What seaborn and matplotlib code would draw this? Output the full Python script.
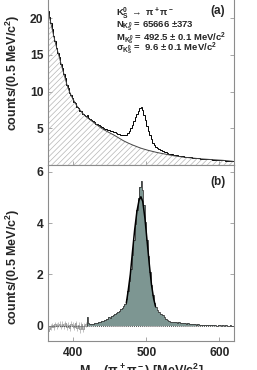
import numpy as np
import pandas as pd
import matplotlib
matplotlib.use("Agg")
import matplotlib.pyplot as plt
import seaborn as sns

sns.set_theme(style="white")
plt.rcParams['font.family'] = ['Liberation Sans', 'DejaVu Sans']
plt.rcParams['font.weight'] = 'bold'
plt.rcParams['mathtext.fontset'] = 'custom'
plt.rcParams['mathtext.rm'] = 'Liberation Sans:bold'
plt.rcParams['mathtext.it'] = 'Liberation Sans:bold'
plt.rcParams['mathtext.bf'] = 'Liberation Sans:bold'
plt.rcParams['hatch.linewidth'] = 0.5

# --- datos, bins de 2 MeV entre 364 y 620 ---
bin_edges = np.arange(364, 622, 2)
bin_centers = np.arange(365, 621, 2)

# fondo ajustado (panel a)
background = [21.2, 20.3, 19.4, 18.5, 17.6, 16.8, 16.0, 15.3, 14.6, 13.8,
              13.1, 12.4, 11.7, 11.0, 10.4, 9.9, 9.45, 9.05, 8.7, 8.35,
              8.0, 7.75, 7.5, 7.25, 7.0, 6.8, 6.6, 6.45, 6.3, 6.15,
              6.0, 5.85, 5.7, 5.55, 5.4, 5.25, 5.1, 4.97, 4.85, 4.73,
              4.62, 4.51, 4.4, 4.3, 4.2, 4.1, 3.98, 3.86, 3.74, 3.62,
              3.5, 3.38, 3.27, 3.17, 3.07, 2.98, 2.89, 2.8, 2.72, 2.64,
              2.56, 2.48, 2.4, 2.33, 2.26, 2.2, 2.14, 2.08, 2.02, 1.97,
              1.92, 1.87, 1.82, 1.77, 1.72, 1.68, 1.64, 1.6, 1.56, 1.52,
              1.48, 1.44, 1.4, 1.36, 1.32, 1.28, 1.25, 1.22, 1.19, 1.16,
              1.13, 1.1, 1.07, 1.05, 1.03, 1.01, 0.99, 0.97, 0.95, 0.93,
              0.91, 0.89, 0.87, 0.85, 0.84, 0.82, 0.81, 0.79, 0.78, 0.76,
              0.75, 0.74, 0.72, 0.71, 0.7, 0.68, 0.67, 0.66, 0.65, 0.63,
              0.62, 0.6, 0.58, 0.56, 0.54, 0.52, 0.5, 0.48]

# cuentas menos fondo (panel b): zona ruidosa sin relleno + zona rellena
signal_noise = [-0.2, -0.12, -0.05, 0.02, -0.04, 0.05, -0.02, 0.03, 0.08, -0.03,
                0.06, 0.0, 0.1, -0.05, 0.04, -0.08, 0.07, 0.02, -0.06, 0.09,
                -0.1, 0.03, -0.15, 0.05, -0.12, 0.02, 0.05]
signal_err = [0.12, 0.1, 0.11, 0.09, 0.12, 0.1, 0.11, 0.1, 0.12, 0.1,
              0.11, 0.12, 0.1, 0.11, 0.09, 0.12, 0.1, 0.11, 0.12, 0.1,
              0.11, 0.1, 0.12, 0.1, 0.11, 0.09, 0.1]
signal_peak = [0.33, 0.12, 0.05, 0.08, 0.07, 0.1, 0.09, 0.12, 0.14, 0.15,
               0.18, 0.17, 0.22, 0.25, 0.27, 0.32, 0.3, 0.36, 0.42, 0.45,
               0.5, 0.52, 0.58, 0.63, 0.68, 0.75,
               0.85, 1.05, 1.35, 1.75, 2.2, 2.75, 3.35, 3.95, 4.5, 5.0,
               5.4, 5.65, 5.3, 4.7, 4.05, 3.35, 2.7, 2.1, 1.6, 1.2,
               0.9, 0.72, 0.6, 0.52, 0.47,
               0.44, 0.4, 0.33, 0.27, 0.22, 0.18, 0.16, 0.15, 0.14, 0.14,
               0.13, 0.12, 0.13, 0.11, 0.12, 0.1, 0.1, 0.08, 0.09, 0.07,
               0.07, 0.06, 0.05, 0.06, 0.04,
               0.05, 0.03, 0.04, 0.03, 0.02, 0.03, 0.02, 0.02, 0.01, 0.02,
               0.01, 0.02, 0.01, 0.0, 0.01, 0.01, 0.0, 0.01, 0.0, 0.01,
               0.0, 0.0, 0.01, 0.0, 0.0]

# ajuste de la senal (panel b)
fit_x = [472.5, 475, 478, 481, 484, 487, 490, 492.5, 495, 498, 501, 504, 507, 510, 512.5]
fit_y = [0.88, 1.35, 2.0, 2.9, 3.75, 4.45, 4.9, 5.03, 4.85, 4.2, 3.3, 2.4, 1.6, 1.05, 0.75]

n_noise = len(signal_noise)
df = pd.DataFrame({'mass': bin_centers, 'bkg': background,
                   'sig': signal_noise + signal_peak})
df['counts'] = df['bkg'] + df['sig']

# --- figura ---
fig = plt.figure(figsize=(2.57, 3.70), dpi=100)
W, H = 257, 370
left, right = 47.5 / W, 234.3 / W
ax_a = fig.add_axes([left, 1 - 164.5 / H, right - left, 164.5 / H])
ax_b = fig.add_axes([left, 1 - 341 / H, right - left, (341 - 164.5) / H])

# Panel (a)
ax_a.fill_between(df['mass'], 0, df['bkg'], facecolor='none', edgecolor='#b5b5b5',
                  hatch='//////', linewidth=0)
sns.lineplot(x=df['mass'], y=df['bkg'], color='#444444', lw=0.7, ax=ax_a)
ax_a.stairs(df['counts'], bin_edges, color='black', lw=0.7)
ax_a.set_xlim(364.5, 620.5)
ax_a.set_ylim(0.05, 22.5)
ax_a.set_yticks([5, 10, 15, 20])
ax_a.set_xticks([400, 500, 600])
ax_a.set_xticklabels([])
ax_a.set_xlabel("")
ax_a.set_ylabel(r"counts/(0.5 MeV/c$^2$)", fontsize=9, fontweight='bold')
ax_a.yaxis.set_label_coords(-0.137, 0.556)

txt = dict(transform=ax_a.transAxes, fontsize=6.8, va='center', ha='left')
ax_a.text(0.367, 0.921, r"K$^0_S$ $\rightarrow$ $\pi^+\pi^-$", **txt)
ax_a.text(0.367, 0.838, r"N$_{K^0_S}$ = 65666 ±373", **txt)
ax_a.text(0.367, 0.767, r"M$_{K^0_S}$ = 492.5 ± 0.1 MeV/c$^2$", **txt)
ax_a.text(0.367, 0.702, r"$\sigma_{K^0_S}$ =  9.6 ± 0.1 MeV/c$^2$", **txt)
ax_a.text(0.91, 0.933, "(a)", transform=ax_a.transAxes, fontsize=8.5,
          va='center', ha='center')

# Panel (b)
noise = df.iloc[:n_noise]
peak = df.iloc[n_noise:]
ax_b.stairs(noise['sig'], bin_edges[:n_noise + 1], color='#8a8a8a', lw=0.6)
ax_b.errorbar(noise['mass'], noise['sig'], yerr=signal_err,
              fmt='none', ecolor='#a8a8a8', lw=0.5)
ax_b.stairs(peak['sig'], bin_edges[n_noise:], fill=True, color='#7d9692')
ax_b.stairs(peak['sig'], bin_edges[n_noise:], color='#3a3a3a', lw=0.6)
ax_b.axhline(0, color='#555555', lw=0.7, ls=(0, (1, 1)))
sns.lineplot(x=fit_x, y=fit_y, color='black', lw=1.1, ax=ax_b)
ax_b.set_xlim(364.5, 620.5)
ax_b.set_ylim(-0.6, 6.29)
ax_b.set_yticks([0, 2, 4, 6])
ax_b.set_xticks([400, 500, 600])
ax_b.set_ylabel(r"counts/(0.5 MeV/c$^2$)", fontsize=9, fontweight='bold')
ax_b.yaxis.set_label_coords(-0.137, 0.42)
ax_b.set_xlabel(r"M$_{\pi\pi}$($\pi^+\pi^-$) [MeV/c$^2$]", fontsize=9, fontweight='bold',
                labelpad=2)
ax_b.text(0.913, 0.903, "(b)", transform=ax_b.transAxes, fontsize=8.5,
          va='center', ha='center')

for ax in (ax_a, ax_b):
    ax.tick_params(axis='both', which='both', direction='in', length=3, width=0.6,
                   color='#999999', labelsize=8.7, pad=3, left=True, right=True, bottom=True)
    ax.tick_params(axis='x', pad=4)
    for lab in ax.get_xticklabels() + ax.get_yticklabels():
        lab.set_fontweight('bold')
    for s in ax.spines.values():
        s.set_color('#8c8c8c')
        s.set_linewidth(0.8)
ax_a.spines['top'].set_visible(False)

fig.savefig("out.png", dpi=100)
